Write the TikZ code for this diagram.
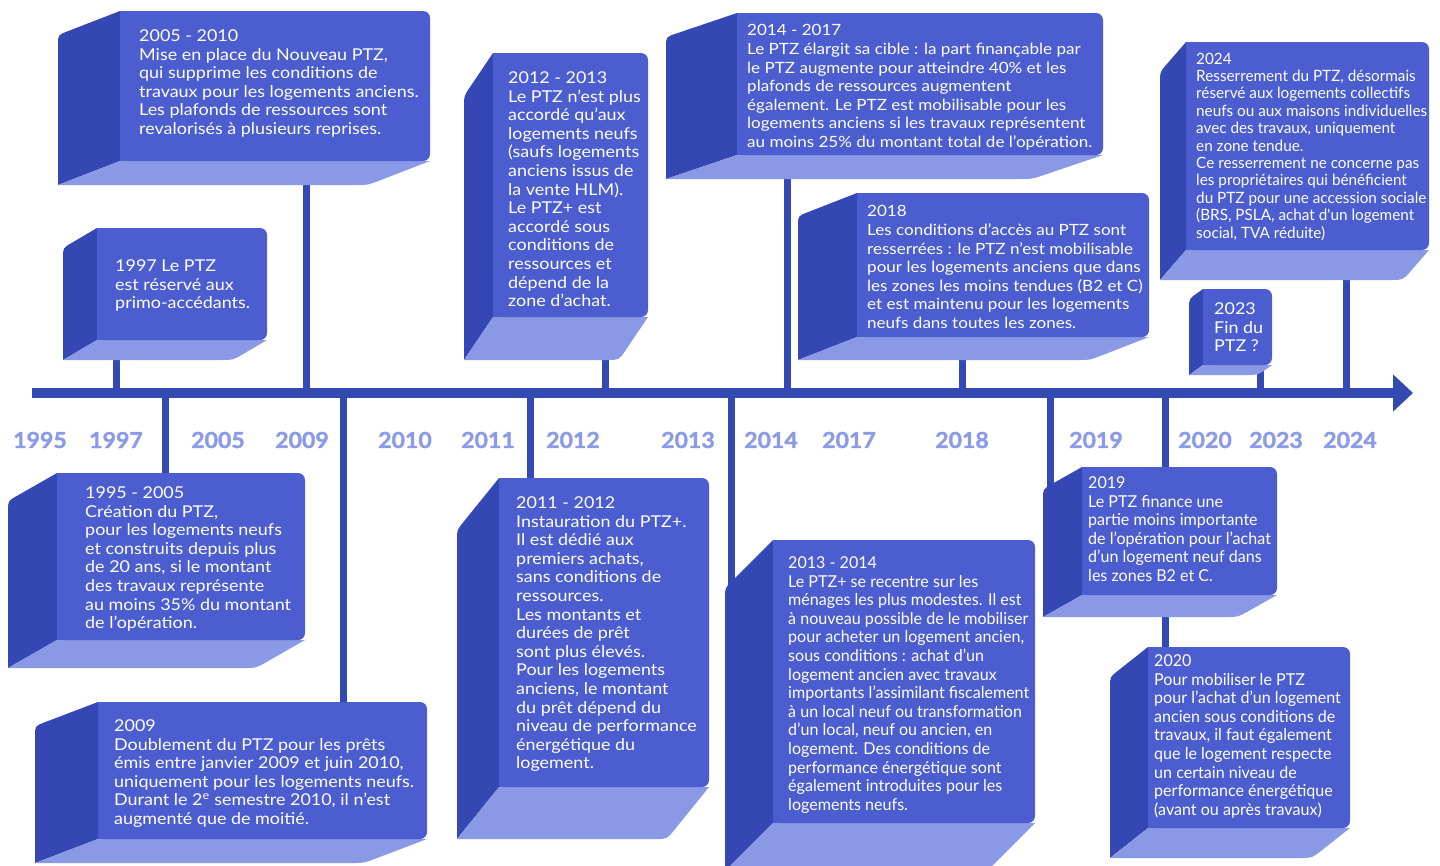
\documentclass[tikz,border=0pt]{standalone}
\usepackage{fontspec}
\setmainfont{Lato}[FakeStretch=1.1]
\newfontfamily\narrowfont{Lato}[FakeStretch=0.98]
\newfontfamily\yearfont{Lato}[FakeStretch=1.05,BoldFeatures={FakeBold=1.6}]
\usetikzlibrary{calc,arrows.meta,backgrounds}

\definecolor{ptzfront}{HTML}{4B5DCF}
\definecolor{ptzside}{HTML}{3447B2}
\definecolor{ptzbottom}{HTML}{8999E5}
\definecolor{ptzline}{HTML}{344AB3}
\definecolor{ptzyear}{HTML}{8C9BE8}

% raised block: #1 name, #2 front top left, #3 front bottom right,
% #4 depth, #5 text position, #6 text options, #7 text
\newcommand\ptzblock[7]{%
  \coordinate (#1-a) at (#2);
  \coordinate (#1-b) at (#3);
  \coordinate (#1-c) at ($(#1-a)+(#4)$);
  \coordinate (#1-d) at ($(#1-b)+(#4)$);
  \fill[sideface] (#1-a) -- ($(#1-c)!10pt!(#1-a)$) .. controls (#1-c) .. ($(#1-c)+(0,10)$)
    -- (#1-c |- #1-d) -- (#1-a |- #1-b) -- cycle;
  \fill[bottomface] (#1-a |- #1-b) -- (#1-c |- #1-d) -- ($(#1-d)+(-12,0)$) .. controls (#1-d) .. ($(#1-d)!12pt!(#1-b)$)
    -- (#1-b) -- cycle;
  \fill[frontface] (#1-a) rectangle ($(#1-b)+(-20,0)$);
  \fill[frontface,rounded corners=7pt] (#1-a) rectangle (#1-b);
  \node[txt,#6] (#1) at (#5) {#7};
}

\begin{document}
\begin{tikzpicture}[x=1pt,y=-1pt,
    frontface/.style={fill=ptzfront},
    sideface/.style={fill=ptzside},
    bottomface/.style={fill=ptzbottom},
    txt/.style={anchor=north west,inner sep=0pt,align=left,text=white,
      font=\fontsize{16.3}{18.6}\selectfont},
    small/.style={font=\fontsize{15.5}{18.6}\selectfont},
    narrow/.style={font=\narrowfont\fontsize{16.4}{18.6}\selectfont},
    year/.style={text=ptzyear,font=\yearfont\bfseries\fontsize{22}{26}\selectfont},
    stem/.style={draw=ptzline,line width=7pt},
    axis/.style={draw=ptzline,line width=10pt,-{Triangle[length=20pt,width=36pt]}}]
  \useasboundingbox (0,0) rectangle (1440,865);

  % blocks above the line
  \ptzblock{a1997}{97,228}{267,340}{-34,20}{115,259.5}{}{1997 Le PTZ\\est réservé aux\\primo-accédants.}
  \ptzblock{a2005}{120,11}{430,161}{-62,24}{139,29.5}{}{2005 - 2010\\Mise en place du Nouveau PTZ,\\qui supprime les conditions de\\travaux pour les logements anciens.\\Les plafonds de ressources sont\\revalorisés à plusieurs reprises.}
  \ptzblock{a2012}{493,53}{648,317}{-29,43}{508,71.5}{}{2012 - 2013\\Le PTZ n’est plus\\accordé qu’aux\\logements neufs\\(saufs logements\\anciens issus de\\la vente HLM).\\Le PTZ+ est\\accordé sous\\conditions de\\ressources et\\dépend de la\\zone d’achat.}
  \ptzblock{a2014}{737,13}{1103,155}{-71,24}{747,24.5}{small}{2014 - 2017\\Le PTZ élargit sa cible : la part finançable par\\le PTZ augmente pour atteindre 40\% et les\\plafonds de ressources augmentent\\également. Le PTZ est mobilisable pour les\\logements anciens si les travaux représentent\\au moins 25\% du montant total de l’opération.}
  \ptzblock{a2018}{857,193}{1149,337}{-59,23}{867,205.5}{small}{2018\\Les conditions d’accès au PTZ sont\\resserrées : le PTZ n’est mobilisable\\pour les logements anciens que dans\\les zones les moins tendues (B2 et C)\\et est maintenu pour les logements\\neufs dans toutes les zones.}
  \ptzblock{a2023}{1203,289}{1272,365}{-14,10}{1214,302.5}{}{2023\\Fin du\\PTZ ?}
  \ptzblock{a2024}{1186,42}{1429,250}{-26,30}{1196,52.5}{font=\narrowfont\fontsize{15.6}{17.4}\selectfont}{2024\\Resserrement du PTZ, désormais\\réservé aux logements collectifs\\neufs ou aux maisons individuelles\\avec des travaux, uniquement\\en zone tendue.\\Ce resserrement ne concerne pas\\les propriétaires qui bénéficient\\du PTZ pour une accession sociale\\(BRS, PSLA, achat d'un logement\\social, TVA réduite)}

  % blocks below the line
  \ptzblock{a1995}{57,473}{305,640}{-49,28}{85,486.5}{}{1995 - 2005\\Création du PTZ,\\pour les logements neufs\\et construits depuis plus\\de 20 ans, si le montant\\des travaux représente\\au moins 35\% du montant\\de l’opération.}
  \ptzblock{a2009}{98,702}{427,839}{-63,24}{114,719.5}{}{2009\\Doublement du PTZ pour les prêts\\émis entre janvier 2009 et juin 2010,\\uniquement pour les logements neufs.\\Durant le 2\textsuperscript{e} semestre 2010, il n’est\\augmenté que de moitié.}
  \ptzblock{a2011}{499,478}{709,787}{-42,52}{516,496.5}{}{2011 - 2012\\Instauration du PTZ+.\\Il est dédié aux\\premiers achats,\\sans conditions de\\ressources.\\Les montants et\\durées de prêt\\sont plus élevés.\\Pour les logements\\anciens, le montant\\du prêt dépend du\\niveau de performance\\énergétique du\\logement.}
  \ptzblock{a2013}{773,540}{1035,823}{-48,48}{788,556.5}{narrow}{2013 - 2014\\Le PTZ+ se recentre sur les\\ménages les plus modestes. Il est\\à nouveau possible de le mobiliser\\pour acheter un logement ancien,\\sous conditions : achat d’un\\logement ancien avec travaux\\importants l’assimilant fiscalement\\à un local neuf ou transformation\\d’un local, neuf ou ancien, en\\logement. Des conditions de\\performance énergétique sont\\également introduites pour les\\logements neufs.}
  \ptzblock{a2019}{1082,467}{1277,595}{-39,22}{1088,476.5}{narrow}{2019\\Le PTZ finance une\\partie moins importante\\de l’opération pour l’achat\\d’un logement neuf dans\\les zones B2 et C.}
  \ptzblock{a2020}{1148,647}{1350,828}{-38,30}{1154,654.5}{narrow}{2020\\Pour mobiliser le PTZ\\pour l’achat d’un logement\\ancien sous conditions de\\travaux, il faut également\\que le logement respecte\\un certain niveau de\\performance énergétique\\(avant ou après travaux)}

  % years along the line
  \foreach \yr/\xx in {1995/40,1997/116,2005/218,2009/302,2010/405,2011/488,2012/573,2013/688,2014/771,2017/849,2018/962,2019/1096,2020/1205,2023/1276,2024/1350}
    \node[year] (y\yr) at (\xx,440) {\yr};

  % time line and the stems up and down to the blocks
  \begin{scope}[on background layer]
    \coordinate (axl) at (32,393);
    \coordinate (axr) at (1413,393);
    \draw[axis] (axl) -- (axr);
    \foreach \blk/\xx in {a1997/116,a2005/306,a2012/605,a2014/787,a2018/962,a2023/1260,a2024/1346,a1995/165,a2009/343,a2011/530,a2013/731,a2019/1050,a2020/1165} {
      \coordinate (t-\blk) at (\xx,393);
      \draw[stem] (t-\blk) -- (t-\blk |- \blk);
    }
  \end{scope}
\end{tikzpicture}
\end{document}
